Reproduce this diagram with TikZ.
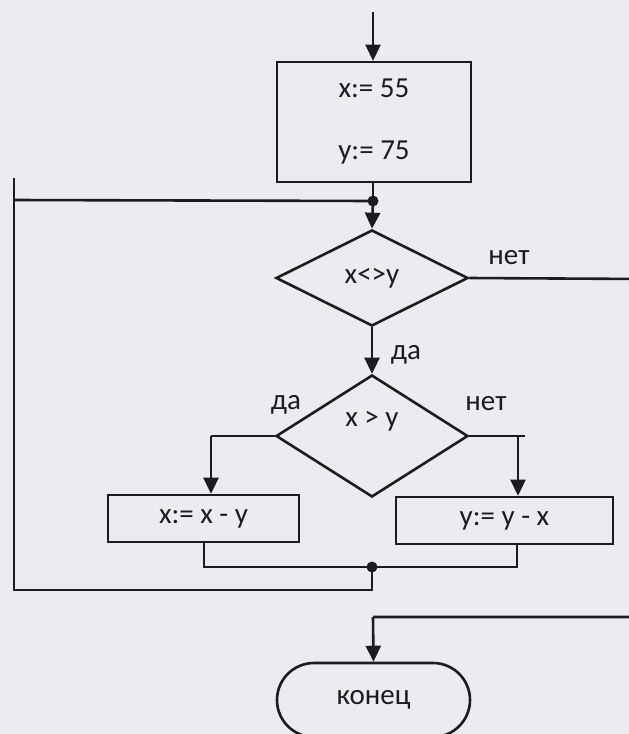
\documentclass[tikz,border=0pt]{standalone}
\usepackage{fontspec}
\setmainfont{Carlito}
\usetikzlibrary{shapes.geometric,arrows.meta}
\definecolor{paper}{RGB}{236,236,240}
\definecolor{ink}{RGB}{28,28,30}
\tikzset{
  base/.style={draw=ink, line width=2.6pt, text=ink, font=\fontsize{29}{62}\selectfont, inner sep=0pt},
  procbox/.style={base, rectangle},
  decision/.style={base, diamond},
  terminal/.style={base, rectangle, rounded corners=37pt},
  txt/.style={text=ink, font=\fontsize{29}{34}\selectfont, inner sep=0pt},
  conn/.style={draw=ink, line width=2.6pt},
  arr/.style={conn, -{Triangle[length=16pt,width=15pt]}},
  jdot/.style={circle, fill=ink, minimum size=11pt, inner sep=0pt}
}
\begin{document}
\begin{tikzpicture}[x=1pt,y=-1pt]
\fill[paper] (0,0) rectangle (629,734);
\useasboundingbox (0,0) rectangle (629,734);
\clip (0,0) rectangle (629,734);

% nodes
\coordinate (start) at (373,12);
\node[procbox, minimum width=194pt, minimum height=120pt, align=center] (init) at (374,122) {x:= 55\\y:= 75};
\node[jdot] (dot1) at (373,201) {};
\node[decision, minimum width=192pt, minimum height=96pt] (d1) at (372,278) {x<>y};
\node[decision, minimum width=192pt, minimum height=122pt] (d2) at (372,436) {};
\node[txt] (d2t) at (372,421) {x > y};
\node[procbox, minimum width=191pt, minimum height=47pt] (bx) at (203.5,518.5) {x:= x - y};
\node[procbox, minimum width=217pt, minimum height=47pt] (by) at (504.5,520.5) {y:= y - x};
\node[jdot] (dot2) at (372,567) {};
\node[terminal, minimum width=193pt, minimum height=74pt] (end) at (373.5,700) {конец};

% labels
\node[txt] (l1) at (509,258) {нет};
\node[txt] (l2) at (406,355) {да};
\node[txt] (l3) at (286,405) {да};
\node[txt] (l4) at (486,404) {нет};

% helper coordinates
\coordinate (ax) at (211,436);
\coordinate (ay) at (518,436);
\coordinate (ayx) at (525,436);
\coordinate (mx) at (204,567);
\coordinate (my) at (517,567);
\coordinate (lb) at (372,590);
\coordinate (lbl) at (14,590);
\coordinate (lm) at (14,200);
\coordinate (lt) at (14,178);
\coordinate (r1) at (645,279);
\coordinate (r2) at (645,617);
\coordinate (r3) at (373,617);

% connectors
\draw[arr] (start) -- (init.north -| start);
\draw[conn] (init.south -| dot1) -- (dot1.center);
\draw[arr] (dot1.center) -- (d1.north);
\draw[arr] (d1.south) -- (d2.north);
\draw[conn] (d2.west) -- (ax);
\draw[arr] (ax) -- (ax |- bx.north);
\draw[conn] (d2.east) -- (ayx);
\draw[arr] (ay) -- (ay |- by.north);
\draw[conn] (mx |- bx.south) -- (mx) -- (my) -- (my |- by.south);
\draw[conn] (dot2.center) -- (lb) -- (lbl) -- (lt);
\draw[conn] (lm) -- (dot1.center);
\draw[conn] (d1.east) -- (r1) -- (r2) -- (r3);
\draw[arr] (r3) -- (end.north);
\end{tikzpicture}
\end{document}
